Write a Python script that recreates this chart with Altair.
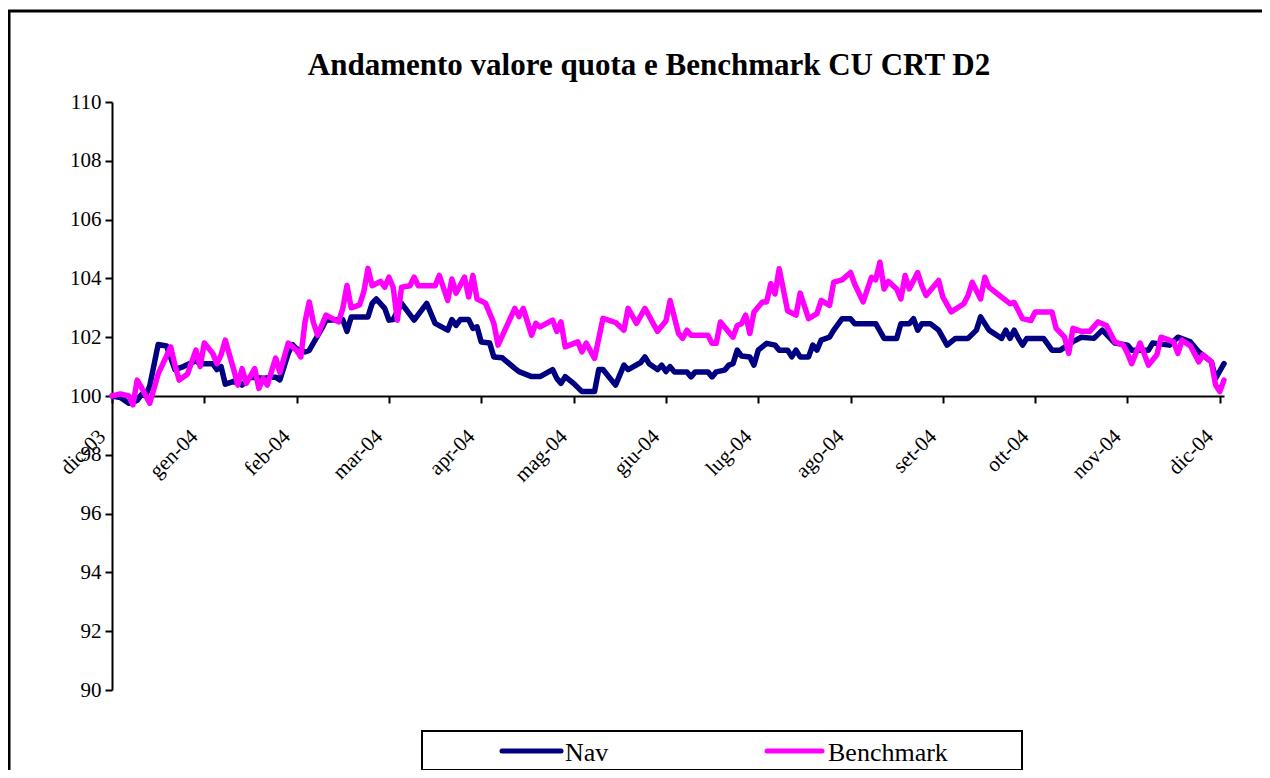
import altair as alt
import pandas as pd

title_text = "Andamento valore quota e Benchmark CU CRT D2"
series_names = ["Nav", "Benchmark"]
series_colors = ["#000080", "#FF00FF"]
month_labels = ["dic-03", "gen-04", "feb-04", "mar-04", "apr-04", "mag-04", "giu-04",
                "lug-04", "ago-04", "set-04", "ott-04", "nov-04", "dic-04"]
y_ticks = [90, 92, 94, 96, 98, 100, 102, 104, 106, 108, 110]

# trading-session index (22 sessions per month tick) and values
nav_day = [0, 2, 4, 6, 7, 8, 9, 11, 13, 15, 17, 20, 21, 24, 25, 26, 27, 29, 31, 33, 36, 38, 39, 40,
           42, 43, 44, 46, 47, 50, 51, 55, 56, 57, 61, 62, 63, 65, 66, 67, 69, 72, 75, 77, 80, 81,
           82, 83, 85, 86, 87, 88, 90, 91, 93, 96, 97, 100, 102, 105, 106, 107, 108, 110, 112, 115,
           116, 117, 120, 122, 123, 126, 127, 128, 130, 131, 132, 133, 134, 137, 138, 139, 142, 143,
           144, 146, 147, 148, 149, 150, 152, 153, 154, 156, 158, 159, 161, 162, 163, 164, 166, 167,
           168, 169, 171, 172, 174, 176, 177, 182, 184, 187, 188, 190, 191, 192, 193, 195, 197, 199,
           201, 204, 206, 207, 209, 212, 213, 214, 215, 216, 217, 218, 222, 224, 226, 229, 231, 234,
           236, 239, 242, 243, 247, 248, 252, 254, 257, 259, 262, 263, 264, 265]
nav_val = [100.0, 99.95, 99.75, 99.85, 100.05, 100.0, 100.35, 101.75, 101.7, 100.9, 101.0, 101.2,
           101.1, 101.1, 100.9, 101.0, 100.4, 100.5, 100.37, 100.64, 100.6, 100.64, 100.64, 100.55,
           101.45, 101.75, 101.6, 101.5, 101.55, 102.3, 102.58, 102.6, 102.2, 102.69, 102.69, 103.15,
           103.3, 102.98, 102.58, 102.6, 103.15, 102.58, 103.15, 102.47, 102.24, 102.6, 102.4, 102.6,
           102.6, 102.3, 102.35, 101.84, 101.8, 101.33, 101.3, 100.94, 100.83, 100.66, 100.66, 100.9,
           100.6, 100.43, 100.66, 100.43, 100.15, 100.15, 100.9, 100.9, 100.37, 101.05, 100.9, 101.14,
           101.33, 101.1, 100.9, 101.05, 100.83, 101.0, 100.82, 100.82, 100.65, 100.82, 100.82, 100.65,
           100.82, 100.88, 101.05, 101.1, 101.56, 101.36, 101.33, 101.05, 101.56, 101.79, 101.73,
           101.56, 101.56, 101.33, 101.56, 101.33, 101.33, 101.73, 101.56, 101.9, 102.0, 102.24,
           102.63, 102.63, 102.46, 102.46, 101.96, 101.96, 102.46, 102.46, 102.63, 102.24, 102.46,
           102.46, 102.24, 101.73, 101.96, 101.96, 102.24, 102.69, 102.24, 101.96, 102.24, 101.96,
           102.24, 101.96, 101.73, 101.96, 101.96, 101.56, 101.56, 101.85, 102.0, 101.96, 102.24,
           101.8, 101.73, 101.56, 101.56, 101.8, 101.73, 102.0, 101.84, 101.5, 101.16, 100.6, 100.85,
           101.1]

bench_day = [0, 2, 4, 5, 6, 7, 9, 11, 14, 15, 16, 18, 20, 21, 22, 24, 25, 26, 27, 29, 30, 31, 32, 34,
             35, 36, 37, 39, 40, 42, 44, 45, 46, 47, 48, 49, 51, 54, 55, 56, 57, 59, 60, 61, 62, 64,
             65, 66, 67, 68, 69, 71, 72, 73, 77, 78, 80, 81, 82, 84, 85, 86, 87, 89, 91, 92, 96, 97,
             98, 100, 101, 102, 105, 106, 107, 108, 111, 112, 113, 115, 117, 120, 122, 123, 125, 127,
             130, 132, 133, 135, 136, 137, 138, 142, 143, 144, 145, 148, 149, 150, 151, 152, 153, 155,
             156, 157, 158, 159, 161, 163, 164, 166, 168, 169, 171, 172, 174, 176, 177, 179, 181, 182,
             183, 184, 185, 187, 188, 189, 190, 192, 193, 194, 197, 198, 200, 203, 204, 205, 207, 208,
             209, 212, 214, 215, 217, 219, 220, 222, 224, 225, 227, 228, 229, 231, 233, 235, 237, 239,
             241, 242, 243, 245, 247, 249, 250, 253, 254, 255, 257, 259, 260, 262, 263, 264, 265]
bench_val = [100.0, 100.07, 100.0, 99.7, 100.54, 100.3, 99.75, 100.75, 101.67, 101.05, 100.54,
             100.75, 101.56, 101.0, 101.8, 101.45, 101.1, 101.4, 101.9, 100.9, 100.37, 100.93, 100.43,
             100.93, 100.26, 100.6, 100.37, 101.29, 100.8, 101.8, 101.55, 101.33, 102.52, 103.2, 102.5,
             102.07, 102.75, 102.52, 102.98, 103.76, 103.0, 103.1, 103.54, 104.34, 103.75, 103.9, 103.7,
             104.04, 103.7, 102.58, 103.7, 103.75, 104.04, 103.75, 103.75, 104.1, 103.25, 103.98, 103.5,
             104.04, 103.37, 104.1, 103.3, 103.16, 102.47, 101.73, 102.98, 102.7, 102.98, 102.07,
             102.47, 102.35, 102.58, 102.2, 102.52, 101.67, 101.84, 101.5, 101.8, 101.28, 102.64, 102.5,
             102.24, 102.98, 102.47, 102.98, 102.2, 102.55, 103.25, 102.13, 101.96, 102.24, 102.07,
             102.07, 101.79, 101.79, 102.52, 102.0, 102.4, 102.46, 102.75, 102.13, 102.86, 103.2, 103.2,
             103.82, 103.47, 104.33, 102.9, 102.75, 103.5, 102.63, 102.8, 103.25, 103.08, 103.87,
             103.95, 104.2, 103.8, 103.2, 104.04, 103.95, 104.55, 103.64, 103.9, 103.64, 103.3, 104.1,
             103.64, 104.2, 103.75, 103.42, 103.93, 103.36, 102.86, 103.14, 103.42, 103.87, 103.3,
             104.04, 103.7, 103.36, 103.14, 103.18, 102.63, 102.57, 102.86, 102.86, 102.86, 102.3,
             102.0, 101.45, 102.3, 102.2, 102.2, 102.52, 102.4, 101.84, 101.73, 101.45, 101.1, 101.8,
             101.05, 101.4, 102.0, 101.84, 101.45, 101.9, 101.7, 101.16, 101.4, 101.16, 100.37, 100.15,
             100.54]

df = pd.concat([
    pd.DataFrame({"giorno": nav_day, "valore": nav_val, "serie": series_names[0], "ordine": 0}),
    pd.DataFrame({"giorno": bench_day, "valore": bench_val, "serie": series_names[1], "ordine": 1}),
])

W, H = 1112, 588
SERIF = "Liberation Serif"
step = 22
label_expr = "[" + ",".join("'%s'" % m for m in month_labels) + "][round(datum.value / %d)]" % step

lines = alt.Chart(df).mark_line(strokeWidth=5.5, strokeJoin="round", strokeCap="round").encode(
    x=alt.X("giorno:Q",
            scale=alt.Scale(domain=[0, 265], nice=False, zero=False),
            axis=alt.Axis(title=None, values=[i * step for i in range(len(month_labels))],
                          labelExpr=label_expr, offset=-H / 2, tickSize=7, tickWidth=2,
                          domainWidth=2, labelAngle=-45, labelAlign="right",
                          labelBaseline="middle", labelPadding=30, labelOffset=-10,
                          labelFlush=False, labelOverlap=False, labelFontSize=21)),
    y=alt.Y("valore:Q",
            scale=alt.Scale(domain=[90, 110], nice=False, zero=False),
            axis=alt.Axis(title=None, values=y_ticks, tickSize=7, tickWidth=2, domainWidth=2,
                          labelPadding=4, labelFontSize=21, labelOverlap=False)),
    color=alt.Color("serie:N", scale=alt.Scale(domain=series_names, range=series_colors),
                    legend=None),
    order=alt.Order("ordine:Q"),
    detail="serie:N",
)

one = pd.DataFrame({"k": [0]})

frame = alt.Chart(one).mark_rect(fillOpacity=0, stroke="black", strokeWidth=3).encode(
    x=alt.value(-103), x2=alt.value(W + 200), y=alt.value(-91), y2=alt.value(H + 200))

title = alt.Chart(one).mark_text(font=SERIF, fontSize=31, fontWeight="bold", align="center",
                                 baseline="alphabetic", color="black").encode(
    x=alt.value(537), y=alt.value(-27), text=alt.value(title_text))

legend_box = alt.Chart(one).mark_rect(fill="white", stroke="black", strokeWidth=2).encode(
    x=alt.value(310), x2=alt.value(910), y=alt.value(629), y2=alt.value(668))

sym_x = [(390, 449), (655, 710)]
lab_x = [453, 716]
legend_layers = []
for name, col, (sx1, sx2), lx in zip(series_names, series_colors, sym_x, lab_x):
    legend_layers.append(
        alt.Chart(one).mark_rule(color=col, strokeWidth=5, strokeCap="round").encode(
            x=alt.value(sx1), x2=alt.value(sx2), y=alt.value(649)))
    legend_layers.append(
        alt.Chart(one).mark_text(font=SERIF, fontSize=26, align="left", baseline="alphabetic",
                                 color="black").encode(
            x=alt.value(lx), y=alt.value(659), text=alt.value(name)))

chart = alt.layer(frame, title, lines, legend_box, *legend_layers).properties(
    width=W, height=H,
    autosize=alt.AutoSizeParams(type="none"),
    padding={"left": 104, "top": 94, "right": 38, "bottom": 80},
).configure_view(stroke=None).configure_axis(
    grid=False, domainColor="black", tickColor="black", labelColor="black",
    labelFont=SERIF,
)

chart.save("out.html", embed_options={"renderer": "svg", "actions": False})
